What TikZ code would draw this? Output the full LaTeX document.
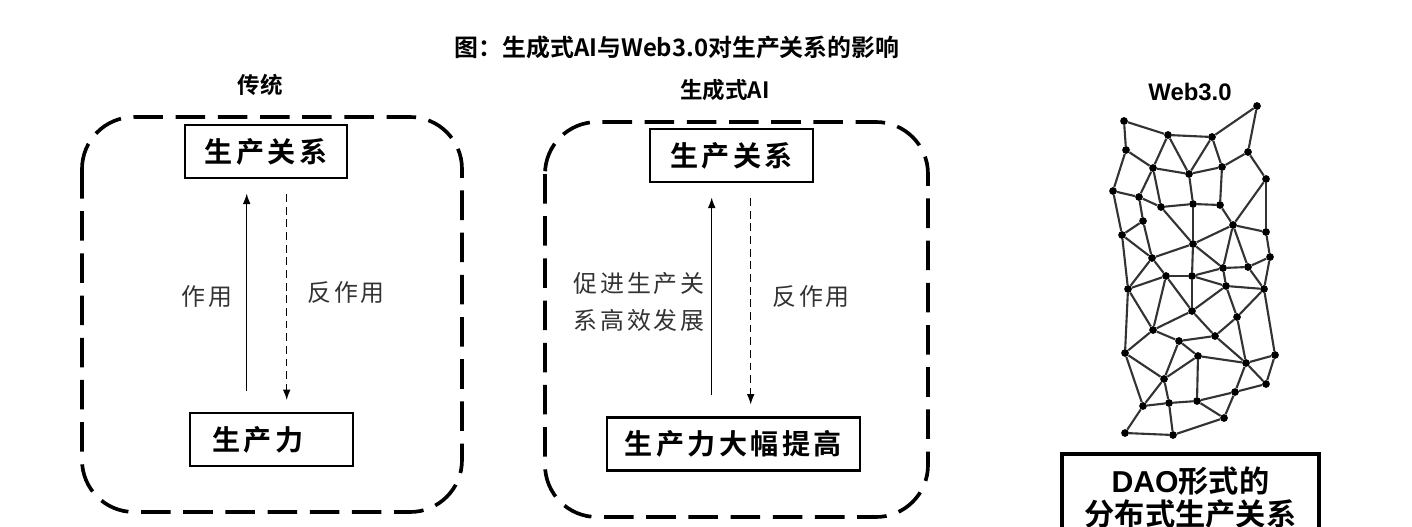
\documentclass[tikz,border=0pt]{standalone}
\usepackage{fontspec}
\setmainfont{Noto Sans CJK SC}[BoldFont={Noto Sans CJK SC Bold}]
\newfontfamily\spaced{Noto Sans CJK SC}[LetterSpace=12,BoldFont={Noto Sans CJK SC Bold}]
\newfontfamily\arialb{Liberation Sans}[BoldFont={Liberation Sans Bold}]
\usetikzlibrary{arrows.meta}
\begin{document}
\begin{tikzpicture}[
  x=0.025cm, y=-0.025cm,
  every node/.style={inner sep=0pt},
  panel/.style={draw, line width=2.6pt, dash pattern=on 21pt off 9pt, rounded corners=1.3cm},
  relbox/.style={draw, line width=2pt, minimum height=53*0.025cm, font=\spaced\bfseries\fontsize{20}{24}\selectfont},
  lbl/.style={text=black!80, font=\spaced\fontsize{17}{26}\selectfont, align=center},
  head/.style={font=\bfseries\fontsize{16}{19}\selectfont},
  uparr/.style={-{Latex[length=7.5pt,width=5.5pt]}, line width=0.9pt, shorten <=15pt, shorten >=10pt},
  backarr/.style={-{Latex[length=7.5pt,width=5.5pt]}, line width=0.9pt, dash pattern=on 5.5pt off 3.5pt, shorten <=10.5pt, shorten >=8.2pt},
  dot/.style={circle, fill=black, minimum size=5.5pt},
  web/.style={line width=1.5pt, black!80},
]
\useasboundingbox (0,0) rectangle (1412,526);
\clip (0,0) rectangle (1412,526);

\node[font=\bfseries\fontsize{17}{20}\selectfont] (title) at (677,47) {图：生成式AI与Web3.0对生产关系的影响};

\node[head] (trad) at (260,85) {传统};
\draw[panel] (82,117) rectangle (462,512);
\node[relbox, minimum width=162*0.025cm] (rel1) at (266,151.5) {生产关系};
\node[relbox, minimum width=163*0.025cm, text width=146*0.025cm, align=left] (prod1) at (271.5,439.5) {\hspace*{14\dimexpr0.025cm\relax}生产力};
\draw[uparr] (prod1.north -| 246.7,0) -- (rel1.south -| 246.7,0);
\draw[backarr] (rel1.south -| 286.7,0) -- (prod1.north -| 286.7,0);
\node[lbl] (act1) at (207,297) {作用};
\node[lbl] (react1) at (346,293) {反作用};

\node[head] (genai) at (725,90) {生成式AI};
\draw[panel] (545,122) rectangle (928,517);
\node[relbox, minimum width=163*0.025cm] (rel2) at (731.5,155.5) {生产关系};
\node[relbox, minimum width=253*0.025cm] (prod2) at (733.5,444) {生产力大幅提高};
\draw[uparr] (prod2.north -| 711.7,0) -- (rel2.south -| 711.7,0);
\draw[backarr] (rel2.south -| 750.7,0) -- (prod2.north -| 750.7,0);
\node[lbl] (act2) at (639,302) {促进生产关\\系高效发展};
\node[lbl] (react2) at (811,297) {反作用};

\node[font=\arialb\bfseries\fontsize{17}{20}\selectfont] (web3) at (1190,92) {Web3.0};
\foreach \i/\mx/\my in {1/1124/121, 2/1257/106, 3/1168/135, 4/1212/137, 5/1126/150,
  6/1248/152, 7/1153/168, 8/1189/174, 9/1222/167, 10/1266/179, 11/1113/191,
  12/1139/197, 13/1161/207, 14/1193/204, 15/1220/205, 16/1143/221, 17/1233/225,
  18/1122/235, 19/1266/232, 20/1193/244, 21/1152/258, 22/1270/257, 23/1223/268,
  24/1248/267, 25/1166/276, 26/1192/276, 27/1128/289, 28/1226/286, 29/1264/289,
  30/1192/311, 31/1237/317, 32/1153/330, 33/1215/336, 34/1179/341, 35/1125/353,
  36/1198/356, 37/1275/355, 38/1246/363, 39/1164/379, 40/1266/384, 41/1235/392,
  42/1143/406, 43/1169/403, 44/1197/401, 45/1224/418, 46/1125/433, 47/1173/435}
  \node[dot] (m\i) at (\mx,\my) {};
\foreach \a/\b in {1/3, 1/5, 3/4, 4/2, 2/6, 3/7, 3/8, 4/8, 4/9, 6/9, 6/10, 5/7,
  5/11, 7/8, 8/9, 7/12, 7/13, 8/14, 9/15, 10/17, 15/17, 10/19, 11/12, 12/13,
  13/14, 14/15, 11/18, 12/16, 13/20, 14/20, 16/18, 16/21, 18/21, 18/27, 17/20,
  17/19, 17/23, 17/24, 19/22, 22/24, 22/29, 20/21, 20/26, 20/23, 21/25, 21/27,
  23/24, 23/26, 23/28, 24/29, 25/26, 25/27, 25/30, 25/32, 26/28, 26/30, 28/29,
  28/30, 28/31, 29/31, 29/37, 27/32, 27/35, 30/32, 30/33, 32/34, 33/34, 31/33,
  31/38, 32/35, 34/39, 34/36, 33/38, 35/39, 35/42, 36/39, 36/38, 36/44, 37/38,
  37/40, 38/40, 38/41, 40/41, 41/44, 41/45, 39/42, 39/43, 42/43, 43/44, 44/45,
  42/46, 43/47, 46/47, 47/45}
  \draw[web] (m\a) -- (m\b);

\node[draw, line width=2.6pt, anchor=north, minimum width=257*0.025cm, text width=257*0.025cm, align=center,
  inner ysep=9pt, font=\bfseries\fontsize{21.5}{24}\selectfont] (dao) at (1190.5,452)
  {{\arialb\bfseries DAO}形式的\\分布式生产关系};
\end{tikzpicture}
\end{document}
